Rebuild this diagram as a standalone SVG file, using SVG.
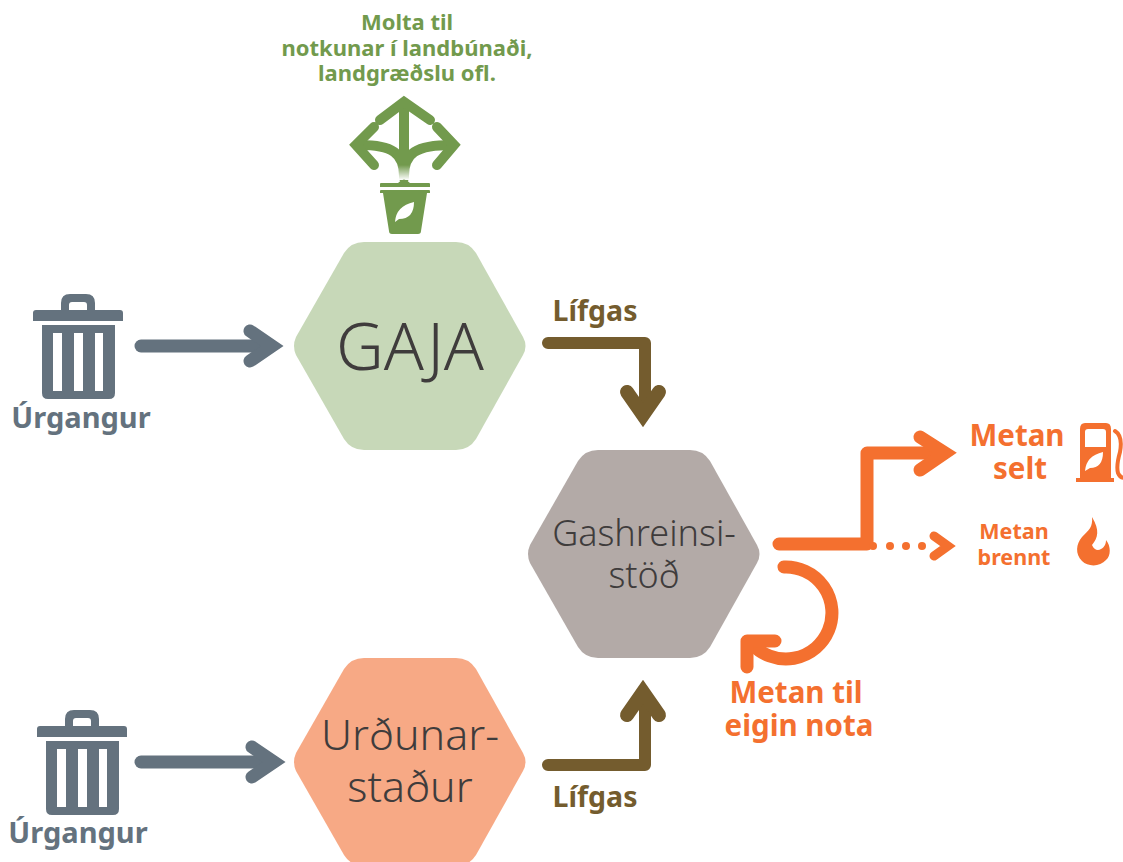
<svg xmlns="http://www.w3.org/2000/svg" width="1123" height="862" viewBox="0 0 1123 862">
<style>
.big{font-family:"Noto Sans","Liberation Sans",sans-serif;font-weight:300;fill:#3f3c3c;text-anchor:middle}
.lab{font-family:"Noto Sans","Liberation Sans",sans-serif;font-weight:700;text-anchor:middle}
.ln{fill:none;stroke-linecap:round;stroke-linejoin:round}
.hd{fill:none;stroke-linecap:round;stroke-linejoin:miter;stroke-miterlimit:6}
.g{stroke:#64727e;stroke-width:13}
.b{stroke:#745c2e;stroke-width:12}
.bh{stroke:#745c2e;stroke-width:14}
.o{stroke:#f4702f;stroke-width:13}
.od{stroke:#f4702f;stroke-width:9}
.gr{stroke:#729a4d;stroke-width:10}
.ho{stroke:#f4702f;stroke-width:4}
</style>
<defs>
<path id="hx" d="M-114,-9Q-118,0 -114,9L-66,93Q-59,104 -46,104L46,104Q59,104 66,93L113,9Q118,0 113,-9L66,-93Q59,-104 46,-104L-46,-104Q-59,-104 -66,-93Z"/>
<g id="bin" fill="#64727e">
<path d="M-42,-37H-17V-44Q-17,-53 -8,-53H8Q17,-53 17,-44V-37H42Q45,-37 45,-34V-26H-45V-34Q-45,-37 -42,-37ZM-9,-37H9V-42Q9,-45 6,-45H-6Q-9,-45 -9,-42Z" fill-rule="evenodd"/>
<path d="M-36,-22H37V46Q37,52 31,52H-30Q-36,52 -36,46ZM-25,-14V44H-16V-14ZM-4,-14V44H5V-14ZM17,-14V44H25V-14Z" fill-rule="evenodd"/>
</g>
<linearGradient id="fade" x1="0" y1="0" x2="0" y2="1"><stop offset="0" stop-color="#fff" stop-opacity="0"/><stop offset="1" stop-color="#fff"/></linearGradient>
</defs>
<g id="connectors">
<path class="ln g" d="M141,346H268"/>
<path class="hd g" d="M250,331L272,346L250,361"/>
<path class="ln g" d="M141,762H272"/>
<path class="hd g" d="M252,747L274,762L252,777"/>
<path class="ln b" d="M548,343H645V411"/>
<path class="hd bh" d="M627,392L643,415L659,392"/>
<path class="ln b" d="M548,765H645V697"/>
<path class="hd bh" d="M627,715L643,692L659,715"/>
<path class="ln o" d="M779,544H867V453H935"/>
<path class="hd o" d="M920,437L945,453L920,470"/>
<path class="ln o" d="M784,567A46,46 0 1 1 752,644"/>
<path class="ln o" d="M747,667V641H775"/>
<circle cx="873" cy="546" r="4" fill="#f4702f"/><circle cx="890" cy="546" r="4" fill="#f4702f"/><circle cx="906" cy="546" r="4" fill="#f4702f"/><circle cx="922" cy="546" r="4" fill="#f4702f"/>
<path class="hd od" d="M934,536L948,546L934,556"/>
</g>
<g id="gaja"><use href="#hx" x="410" y="346" fill="#c7d8b8"/><text class="big" x="410" y="370" font-size="66">GAJA</text></g>
<g id="gashreinsistod"><use href="#hx" x="644" y="554" fill="#b3aaa7"/><text class="big" x="644" y="546" font-size="36">Gashreinsi-</text><text class="big" x="644" y="588" font-size="36">stöð</text></g>
<g id="urdunarstadur"><use href="#hx" x="410" y="762" fill="#f7a985"/><text class="big" x="410" y="750" font-size="43">Urðunar-</text><text class="big" x="410" y="802" font-size="43">staður</text></g>
<g id="urgangur1"><use href="#bin" x="78" y="347"/><text class="lab" x="81" y="428" font-size="29" fill="#64727e">Úrgangur</text></g>
<g id="urgangur2"><use href="#bin" x="82" y="763"/><text class="lab" x="78" y="843" font-size="29" fill="#64727e">Úrgangur</text></g>
<g id="lifgas1"><text class="lab" x="595" y="321" font-size="28.5" fill="#745c2e">Lífgas</text></g>
<g id="lifgas2"><text class="lab" x="595" y="807" font-size="28.5" fill="#745c2e">Lífgas</text></g>
<g id="molta">
<text class="lab" font-size="22" fill="#729a4d"><tspan x="407" y="30">Molta til</tspan><tspan x="407" y="56">notkunar í landbúnaði,</tspan><tspan x="407" y="81">landgræðslu ofl.</tspan></text>
<path class="ln gr" d="M404,178V104M404,176C404,153 392,145 360,145M404,176C404,153 416,145 452,145"/>
<path class="hd gr" d="M380,120L404,102L430,120M374,127L356,145L374,165M437,127L454,145L437,165"/>
<rect x="394" y="165" width="20" height="15" fill="url(#fade)"/>
<path d="M380,184Q380,183 381,183H398Q404,176 410,183H429Q430,183 430,184V187H380ZM381,190H429Q430,190 430,191V193H427L421,231Q421,234 418,234H392Q389,234 389,231L383,193H380V191Q380,190 381,190Z" fill="#729a4d"/>
<path d="M395,222Q396,206 414,202Q414,219 399,219Z" fill="#fff"/>
</g>
<g id="metan-selt">
<text class="lab" font-size="29.5" fill="#f4702f"><tspan x="1017" y="446">Metan</tspan><tspan x="1020" y="479">selt</tspan></text>
<path d="M1085,423H1106Q1111,423 1111,429V478H1114V482H1076V478H1080V429Q1080,423 1085,423ZM1088,429Q1085,429 1085,432V447H1106V432Q1106,429 1103,429Z" fill="#f4702f" fill-rule="evenodd"/>
<path d="M1085,471Q1086,456 1103,452Q1103,468 1090,468Z" fill="#fff"/>
<path class="ln ho" d="M1115,431Q1123,436 1120,452Q1116,466 1118,473Q1120,478 1125,478"/>
</g>
<g id="metan-brennt">
<text class="lab" font-size="21.5" fill="#f4702f"><tspan x="1014" y="539">Metan</tspan><tspan x="1014" y="565">brennt</tspan></text>
<path d="M1092,517C1100,530 1098,538 1092,545C1094,550 1098,551 1101,549C1105,547 1106,543 1106,540C1111,546 1111,556 1106,560C1100,567 1088,567 1082,561C1075,554 1076,544 1082,537C1089,530 1093,527 1092,517Z" fill="#f4702f"/>
</g>
<g id="metan-eigin"><text class="lab" font-size="29.5" fill="#f4702f"><tspan x="796" y="703">Metan til</tspan><tspan x="799" y="736">eigin nota</tspan></text></g>
</svg>
